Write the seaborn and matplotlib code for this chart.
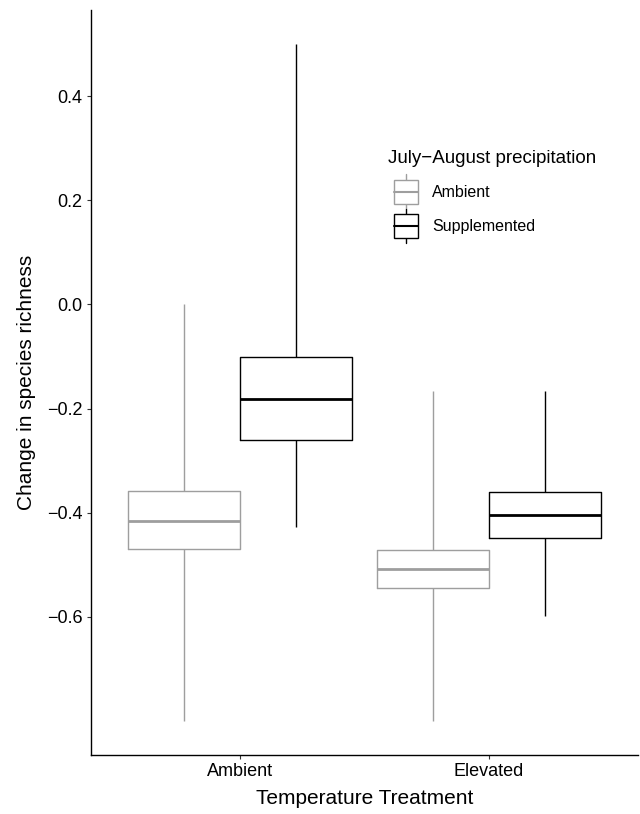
import matplotlib
matplotlib.use("Agg")
import matplotlib.pyplot as plt
from matplotlib.legend_handler import HandlerBase
from matplotlib.patches import Rectangle
from matplotlib.lines import Line2D
import numpy as np
import pandas as pd
import seaborn as sns

sns.set_style("white")
plt.rcParams['font.family'] = ['Liberation Sans', 'DejaVu Sans']
plt.rcParams['text.color'] = 'black'
plt.rcParams['axes.labelcolor'] = 'black'

# box summaries: min, q1, median, q3, max
temps = ["Ambient", "Elevated"]
precips = ["Ambient", "Supplemented"]
amb_amb = [-0.80, -0.470, -0.415, -0.359, 0.0]
amb_sup = [-0.428, -0.261, -0.181, -0.101, 0.50]
ele_amb = [-0.80, -0.545, -0.508, -0.471, -0.167]
ele_sup = [-0.599, -0.449, -0.404, -0.361, -0.167]
ytick_vals = [-0.6, -0.4, -0.2, 0.0, 0.2, 0.4]
colors = {"Ambient": "#9e9e9e", "Supplemented": "black"}

rows = []
for t, p, vals in [("Ambient", "Ambient", amb_amb), ("Ambient", "Supplemented", amb_sup),
                   ("Elevated", "Ambient", ele_amb), ("Elevated", "Supplemented", ele_sup)]:
    for v in vals:
        rows.append({"temp": t, "precip": p, "change": v})
df = pd.DataFrame(rows)

fig = plt.figure(figsize=(6.4, 8.14), dpi=100)
ax = fig.add_axes([0.142, 0.0725, 0.855, 0.915])

sns.boxplot(data=df, x="temp", y="change", hue="precip", order=temps, hue_order=precips,
            palette=colors, fill=False, width=0.9, gap=0, whis=(0, 100), showcaps=False,
            linewidth=1, medianprops=dict(linewidth=2), legend=False, ax=ax)

ax.set_xlim(-0.6, 1.6)
ax.set_ylim(-0.865, 0.565)
ax.set_yticks(ytick_vals)
ax.set_yticklabels([("%.1f" % v).replace("-", "\u2212") for v in ytick_vals])

for s in ["top", "right"]:
    ax.spines[s].set_visible(False)
for s in ["left", "bottom"]:
    ax.spines[s].set_color("black")
    ax.spines[s].set_linewidth(1.0)
ax.tick_params(axis="both", length=3, width=0.8, color="#333333", labelsize=13,
               labelcolor="black", pad=3, left=True, bottom=True)
ax.set_xlabel("Temperature Treatment", fontsize=15, labelpad=6)
ax.set_ylabel("Change in species richness", fontsize=15, labelpad=8)


# ggplot-like box key for the legend
class BoxKey(HandlerBase):
    def create_artists(self, legend, orig, xd, yd, width, height, fontsize, trans):
        c = orig.get_color()
        x0 = xd + 4
        h = 17
        y0 = yd + (height - h) / 2 - 4
        box = Rectangle((x0, y0), width, h, facecolor="white", edgecolor=c, lw=1, transform=trans)
        med = Line2D([x0, x0 + width], [y0 + h / 2] * 2, color=c, lw=1.5, transform=trans)
        w1 = Line2D([x0 + width / 2] * 2, [y0 + h, y0 + h + 4], color=c, lw=1, transform=trans)
        w2 = Line2D([x0 + width / 2] * 2, [y0 - 4, y0], color=c, lw=1, transform=trans)
        return [w1, w2, box, med]


handles = [Line2D([], [], color=colors[p]) for p in precips]
leg = ax.legend(handles, precips, handler_map={Line2D: BoxKey()},
                title="July\u2212August precipitation", title_fontsize=13.5, fontsize=11.5,
                loc="upper left", bbox_to_anchor=(388 / 640, 1 - 150 / 814),
                bbox_transform=fig.transFigure, frameon=False, handlelength=1.5,
                handleheight=1.2, handletextpad=1.25, labelspacing=1.1, borderpad=0,
                borderaxespad=0)
leg._legend_box.align = "left"
leg._legend_box.sep = 12

fig.savefig("out.png", dpi=100)
